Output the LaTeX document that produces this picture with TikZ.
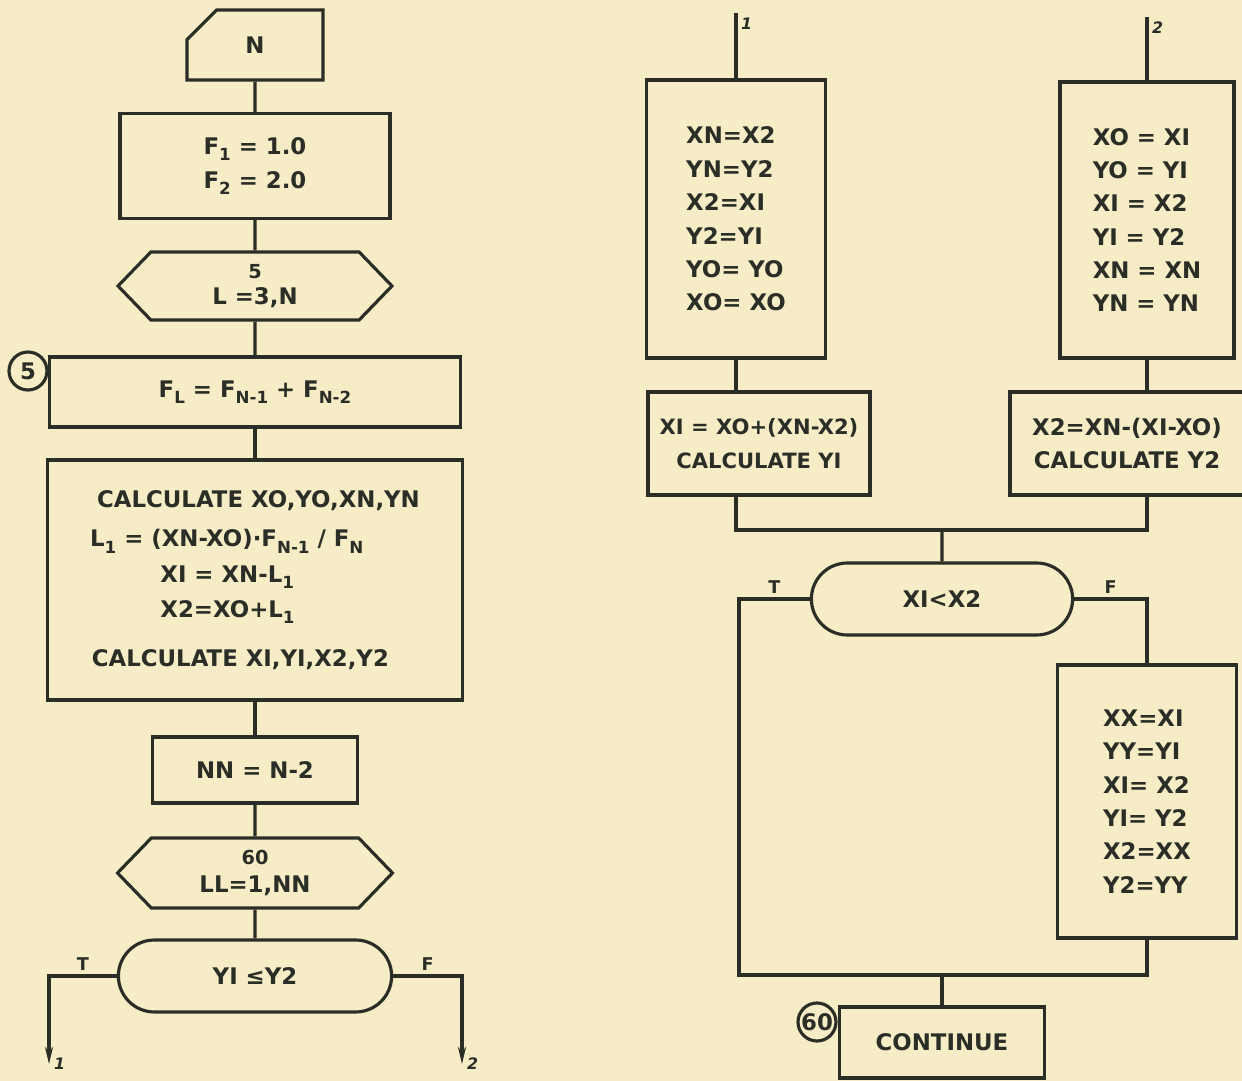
\documentclass[tikz,border=0pt]{standalone}
\usepackage{fontspec}
\setmainfont{DejaVu Sans}
\usetikzlibrary{shapes,arrows,arrows.meta,positioning,calc}
\definecolor{paper}{HTML}{F6EDC6}
\definecolor{ink}{HTML}{2A2E27}
\newcommand{\lo}[1]{\raisebox{-0.5ex}{\fontsize{9.5}{10}\selectfont #1}}

\begin{document}
\begin{tikzpicture}[
    x=0.02cm, y=-0.02cm,
    line width=1.8pt, color=ink,
    font=\fontsize{13}{19}\selectfont\bfseries,
    box/.style={rectangle, draw},
    inbox/.style={chamfered rectangle, chamfered rectangle corners=north west, chamfered rectangle xsep=0.8cm, chamfered rectangle ysep=0.7cm, draw},
    loopbox/.style={signal, signal to=east and west, signal pointer angle=92, draw, align=center},
    test/.style={rounded rectangle, draw},
    tag/.style={circle, draw, inner sep=0pt, minimum size=0.76cm, font=\fontsize{13}{13}\selectfont\bfseries},
    flag/.style={above, inner sep=2pt, font=\fontsize{10}{10}\selectfont\bfseries},
    outnum/.style={inner sep=2pt, font=\fontsize{9}{9}\selectfont\bfseries\itshape},
    arrow/.style={-{Stealth[length=0.34cm, width=0.16cm]}}
]

% Paper
\fill[paper] (0,0) rectangle (1242,1081);
\useasboundingbox (0,0) rectangle (1242,1081);

% Left column
\node[inbox, minimum width=2.72cm, minimum height=1.4cm] (n) at (255,45) {N};
\node[box, minimum width=5.4cm, minimum height=2.1cm, align=left] (init) at (255,166) {F\lo{1} = 1.0\\F\lo{2} = 2.0};
\node[loopbox, minimum width=5.48cm, minimum height=1.36cm] (loopa) at (255,286) {{\fontsize{11}{11}\selectfont 5}\\[-4pt]L =3,N};
\node[box, minimum width=8.22cm, minimum height=1.4cm] (fl) at (255,392) {F\lo{L} = F\lo{N-1} + F\lo{N-2}};
\node[tag] (t5) at (28,371) {5};
\node[box, minimum width=8.3cm, minimum height=4.8cm, align=left] (calc) at (255,580) {\hspace*{4pt}CALCULATE XO,YO,XN,YN\\[3.5pt]
  L\lo{1} = (XN-XO)·F\lo{N-1} / F\lo{N}\\[1pt]
  \hspace*{40pt}XI = XN-L\lo{1}\\[1pt]
  \hspace*{40pt}X2=XO+L\lo{1}\\[9pt]
  \hspace*{1pt}CALCULATE XI,YI,X2,Y2};
\node[box, minimum width=4.1cm, minimum height=1.32cm] (nn) at (255,770) {NN = N-2};
\node[loopbox, minimum width=5.5cm, minimum height=1.4cm] (loopb) at (255,873) {{\fontsize{11}{11}\selectfont 60}\\[-3pt]LL=1,NN};
\node[test, minimum width=5.7cm, minimum height=1.44cm] (testa) at (255,976) {YI ≤Y2};
\coordinate (out1) at (49,1064);
\coordinate (out2) at (462,1064);

% Right part
\coordinate (in1) at (736,13);
\node[box, minimum width=3.58cm, minimum height=5.56cm, align=left] (swapa) at (736,219) {XN=X2\\YN=Y2\\X2=XI\\Y2=YI\\YO= YO\\XO= XO};
\node[box, minimum width=4.44cm, minimum height=2.06cm, align=center, font=\fontsize{12}{19}\selectfont\bfseries] (upd1) at (759,443.5) {XI = XO+(XN-X2)\\CALCULATE YI};
\coordinate (in2) at (1147,17);
\node[box, minimum width=3.48cm, minimum height=5.52cm, align=left] (swapb) at (1147,220) {XO = XI\\YO = YI\\XI = X2\\YI = Y2\\XN = XN\\YN = YN};
\node[box, minimum width=4.68cm, minimum height=2.06cm, align=center] (upd2) at (1127,443.5) {X2=XN-(XI-XO)\\CALCULATE Y2};
\coordinate (join) at (942,530);
\node[test, minimum width=5.46cm, minimum height=1.44cm] (testb) at (942,599) {XI<X2};
\coordinate (tturn) at (739,599);
\node[box, minimum width=3.58cm, minimum height=5.46cm, align=left] (swapc) at (1147,801.5) {XX=XI\\YY=YI\\XI= X2\\YI= Y2\\X2=XX\\Y2=YY};
\coordinate (merge) at (942,975);
\node[box, minimum width=4.1cm, minimum height=1.42cm] (cont) at (942,1042.5) {CONTINUE};
\node[tag] (t60) at (817,1022) {60};

% Left connectors
\draw (n) -- (init);
\draw (init) -- (loopa);
\draw (loopa) -- (fl);
\draw (fl) -- (calc);
\draw (calc) -- (nn);
\draw (nn) -- (loopb);
\draw (loopb) -- (testa);
\draw[arrow] (testa.west) -| node[flag, pos=0.25]{T} (out1) node[outnum, right]{1};
\draw[arrow] (testa.east) -| node[flag, pos=0.25]{F} (out2) node[outnum, right]{2};

% Right connectors
\draw (in1) node[outnum, below right]{1} -- (swapa.north);
\draw (in2) node[outnum, below right]{2} -- (swapb.north);
\draw (swapa.south) -- (swapa.south |- upd1.north);
\draw (swapb.south) -- (swapb.south |- upd2.north);
\draw (swapa.south |- upd1.south) |- (join);
\draw (swapb.south |- upd2.south) |- (join);
\draw (join) -- (testb);
\draw (testb.west) -- node[flag]{T} (tturn) |- (merge);
\draw (testb.east) -| node[flag, pos=0.25]{F} (swapc.north);
\draw (swapc.south) |- (merge);
\draw (merge) -- (cont);

\end{tikzpicture}
\end{document}
